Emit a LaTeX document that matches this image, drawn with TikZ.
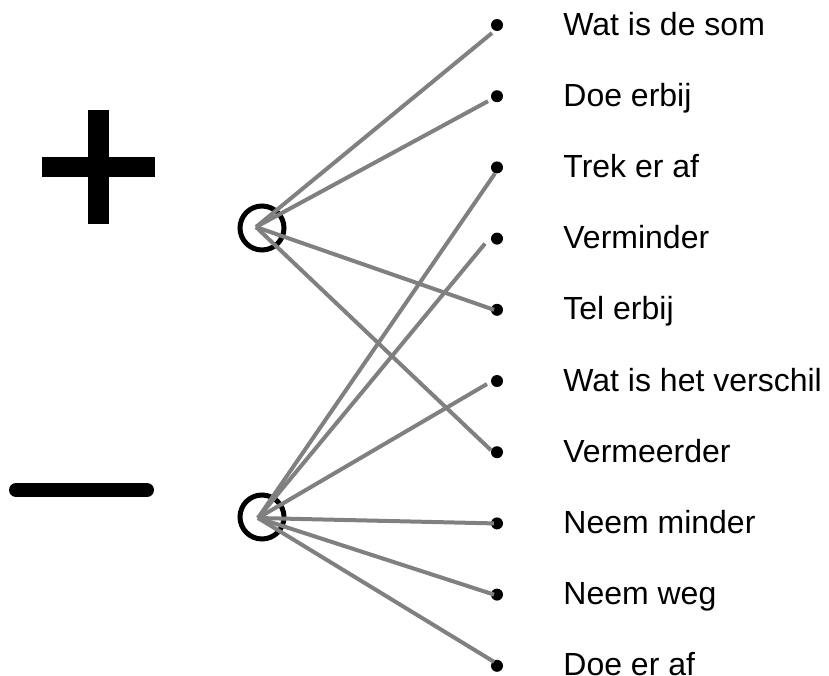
\documentclass[tikz,border=0pt]{standalone}
\usepackage{fontspec}
\setmainfont{Liberation Sans}
\usetikzlibrary{positioning}

\begin{document}
\begin{tikzpicture}[x=1pt, y=-1pt, node distance=58.8pt,
    dot/.style={circle,fill=black,inner sep=0pt,minimum size=12pt},
    txt/.style={inner sep=0pt,text height=20pt,text depth=0pt,font=\fontsize{32}{38}\selectfont},
    ring/.style={circle,draw=black,line width=5pt,inner sep=0pt,minimum size=44pt},
    link/.style={draw=gray,line width=4pt}]
    \useasboundingbox (0,0) rectangle (829,675);

    % plus and minus
    \fill (88,110) rectangle (109,224);
    \fill (42,157) rectangle (155,177);
    \draw[line width=14pt,line cap=round] (16,490) -- (147,490);

    \node[ring] (pls) at (262,228) {};
    \node[ring] (mns) at (262,517) {};
    \coordinate (plshub) at (256,227);
    \coordinate (mnshub) at (258,518);

    \node[dot] (d1) at (497,25) {};
    \node[dot, below=of d1] (d2) {};
    \node[dot, below=of d2] (d3) {};
    \node[dot, below=of d3] (d4) {};
    \node[dot, below=of d4] (d5) {};
    \node[dot, below=of d5] (d6) {};
    \node[dot, below=of d6] (d7) {};
    \node[dot, below=of d7] (d8) {};
    \node[dot, below=of d8] (d9) {};
    \node[dot, below=of d9] (d10) {};

    \node[txt, right=60pt of d1] (som) {Wat is de som};
    \node[txt, right=60pt of d2] (erbij) {Doe erbij};
    \node[txt, right=60pt of d3] (trek) {Trek er af};
    \node[txt, right=60pt of d4] (vermin) {Verminder};
    \node[txt, right=60pt of d5] (tel) {Tel erbij};
    \node[txt, right=60pt of d6] (verschil) {Wat is het verschil};
    \node[txt, right=60pt of d7] (vermeer) {Vermeerder};
    \node[txt, right=60pt of d8] (minder) {Neem minder};
    \node[txt, right=60pt of d9] (weg) {Neem weg};
    \node[txt, right=60pt of d10] (doeaf) {Doe er af};

    % optellen
    \draw[link] (plshub) -- ([xshift=-5pt,yshift=-8pt]d1.center);
    \draw[link] (plshub) -- ([xshift=-9pt,yshift=-5pt]d2.center);
    \draw[link] (plshub) -- ([xshift=-3pt]d5.center);
    \draw[link] (plshub) -- ([xshift=-6pt,yshift=2pt]d7.center);

    % aftrekken
    \draw[link] (mnshub) -- ([xshift=-2pt,yshift=-6pt]d3.center);
    \draw[link] (mnshub) -- ([xshift=-12pt,yshift=-5pt]d4.center);
    \draw[link] (mnshub) -- ([xshift=-10pt,yshift=-3pt]d6.center);
    \draw[link] (mnshub) -- ([xshift=-3pt]d8.center);
    \draw[link] (mnshub) -- ([xshift=-3pt]d9.center);
    \draw[link] (mnshub) -- ([xshift=-3pt,yshift=4pt]d10.center);
\end{tikzpicture}
\end{document}
